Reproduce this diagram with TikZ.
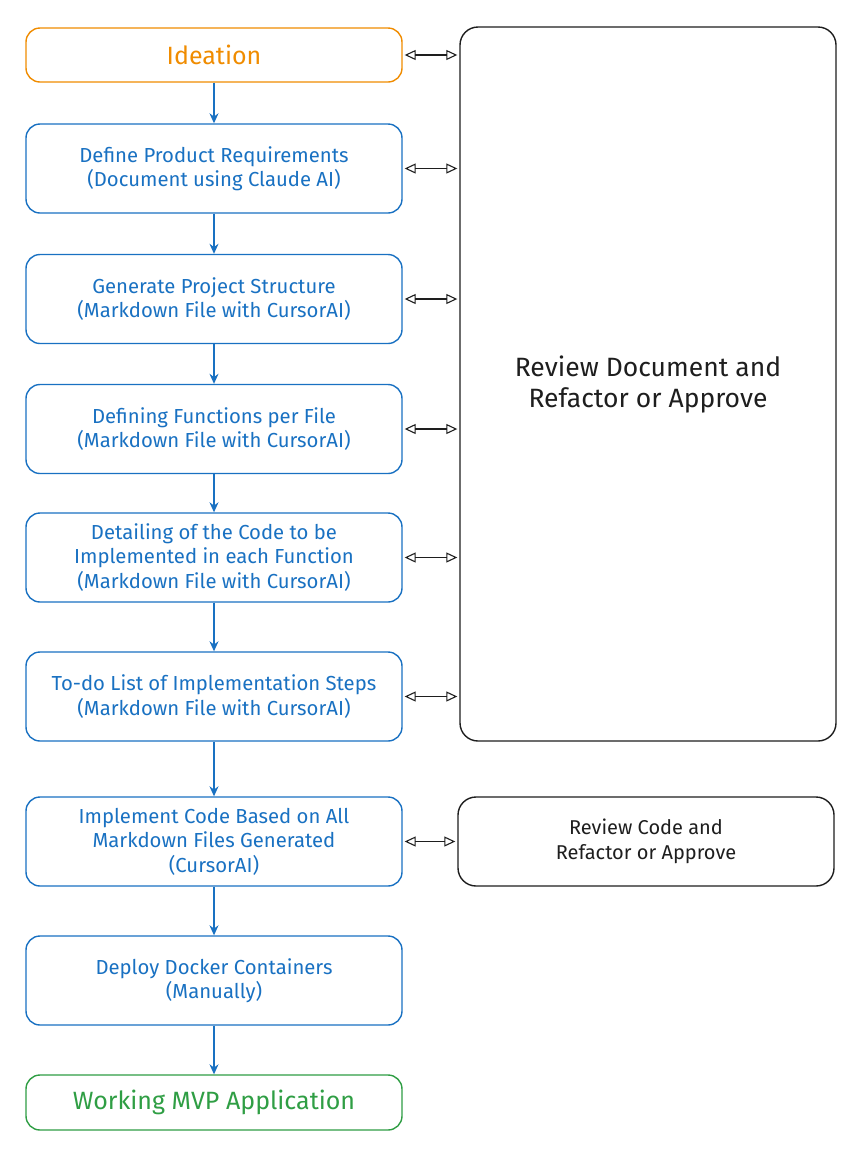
\documentclass[tikz,border=0pt]{standalone}
\usepackage{fontspec}
\setmainfont{Fira Sans}
\usetikzlibrary{arrows.meta}
\definecolor{exblue}{HTML}{1971C2}
\definecolor{exorange}{HTML}{F08C00}
\definecolor{exgreen}{HTML}{2F9E44}
\definecolor{exblack}{HTML}{1E1E1E}
\begin{document}
\begin{tikzpicture}[x=1pt,y=-1pt,
  boxbase/.style={draw, line width=1.4pt, rounded corners=14pt, align=center, inner sep=2pt, minimum width=376pt},
  bluebox/.style={boxbase, draw=exblue, text=exblue, minimum height=89pt, font=\fontsize{20.3}{24.5}\selectfont},
  orangebox/.style={boxbase, draw=exorange, text=exorange, minimum height=54pt, font=\fontsize{25}{30}\selectfont},
  greenbox/.style={boxbase, draw=exgreen, text=exgreen, minimum height=55pt, font=\fontsize{25}{30}\selectfont},
  revbox/.style={boxbase, draw=exblack, text=exblack, rounded corners=18pt},
  flow/.style={draw=exblue, line width=1.3pt, -{Stealth[length=10pt,width=9pt]}},
  dbl/.style={draw=exblack, line width=1.1pt, {Triangle[open,length=11pt,width=10pt]}-{Triangle[open,length=11pt,width=10pt]}, shorten <=2pt, shorten >=2pt}
]
\useasboundingbox (0,0) rectangle (864,1160);
\fill[white] (0,0) rectangle (864,1160);

\node[orangebox] (ide) at (214,55) {Ideation};
\node[bluebox] (b2) at (214,168.5) {Define Product Requirements\\(Document using Claude AI)};
\node[bluebox] (b3) at (214,299) {Generate Project Structure\\(Markdown File with CursorAI)};
\node[bluebox] (b4) at (214,429) {Defining Functions per File\\(Markdown File with CursorAI)};
\node[bluebox] (b5) at (214,557.5) {Detailing of the Code to be\\Implemented in each Function\\(Markdown File with CursorAI)};
\node[bluebox] (b6) at (214,696.5) {To-do List of Implementation Steps\\(Markdown File with CursorAI)};
\node[bluebox] (b7) at (214,841.5) {Implement Code Based on All\\Markdown Files Generated\\(CursorAI)};
\node[bluebox] (b8) at (214,980.5) {Deploy Docker Containers\\(Manually)};
\node[greenbox] (mvp) at (214,1102.5) {Working MVP Application};

\node[revbox, minimum height=714pt, font=\fontsize{26.5}{31}\selectfont] (rev) at (648,384) {Review Document and\\Refactor or Approve};
\node[revbox, minimum height=89pt, font=\fontsize{20}{24.5}\selectfont] (rcode) at (646,841.5) {Review Code and\\Refactor or Approve};

\draw[flow] (ide) -- (b2);
\draw[flow] (b2) -- (b3);
\draw[flow] (b3) -- (b4);
\draw[flow] (b4) -- (b5);
\draw[flow] (b5) -- (b6);
\draw[flow] (b6) -- (b7);
\draw[flow] (b7) -- (b8);
\draw[flow] (b8) -- (mvp);

\foreach \n in {ide,b2,b3,b4,b5,b6}{
  \draw[dbl] (\n.east) -- (rev.west |- \n.east);
}
\draw[dbl] (b7.east) -- (rcode.west);
\end{tikzpicture}
\end{document}
